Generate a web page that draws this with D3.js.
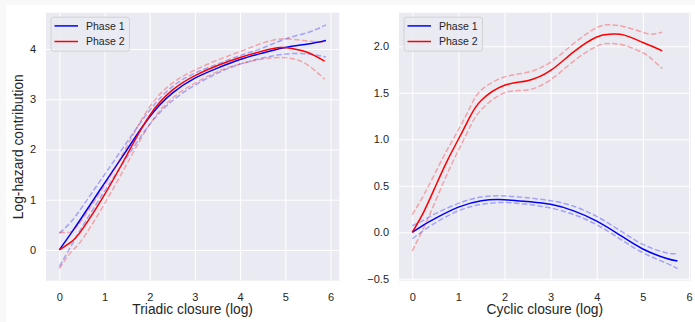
<!DOCTYPE html>
<html>
<head>
<meta charset="utf-8">
<script src="https://cdn.jsdelivr.net/npm/d3@7"></script>
<style>
  body { margin: 0; background: #f8f8f8; }
  svg { display: block; }
  text { font-family: "Liberation Sans", Arial, sans-serif; fill: #262626; }
</style>
</head>
<body>
<div id="chart"></div>
<script>
// ---- data ----
// left panel: triadic closure
const triX1 = [0, 0.25, 0.5, 1, 1.5, 2, 2.5, 3, 3.5, 4, 4.5, 5, 5.5, 5.9];
const triPhase1 = [0, 0.32, 0.65, 1.33, 2.0, 2.65, 3.12, 3.42, 3.62, 3.79, 3.92, 4.03, 4.1, 4.17];
const triPhase1Hi = [0.33, 0.55, 0.85, 1.5, 2.15, 2.78, 3.25, 3.52, 3.7, 3.87, 4.02, 4.2, 4.33, 4.48];
const triPhase1Lo = [-0.33, 0.06, 0.45, 1.17, 1.85, 2.5, 2.97, 3.28, 3.52, 3.7, 3.82, 3.9, 3.9, 3.84];

const triX2 = [0, 0.25, 0.5, 1, 1.5, 2, 2.5, 3, 3.5, 4, 4.5, 4.9, 5.2, 5.5, 5.87];
const triPhase2 = [0, 0.15, 0.4, 1.1, 1.9, 2.68, 3.18, 3.47, 3.67, 3.83, 3.96, 4.03, 4.0, 3.93, 3.76];
const triPhase2Hi = [0.35, 0.36, 0.6, 1.28, 2.07, 2.85, 3.32, 3.58, 3.78, 3.95, 4.12, 4.2, 4.19, 4.16, 4.13];
const triPhase2Lo = [-0.37, -0.05, 0.2, 0.92, 1.72, 2.5, 3.02, 3.32, 3.55, 3.7, 3.8, 3.83, 3.8, 3.68, 3.4];

// right panel: cyclic closure
const cycX1 = [0, 0.25, 0.5, 1, 1.5, 2, 2.5, 3, 3.5, 4, 4.5, 5, 5.5, 5.75];
const cycPhase1 = [0, 0.08, 0.15, 0.27, 0.34, 0.35, 0.33, 0.3, 0.23, 0.12, -0.03, -0.18, -0.28, -0.31];
const cycPhase1Hi = [0.07, 0.13, 0.2, 0.31, 0.38, 0.39, 0.37, 0.34, 0.28, 0.17, 0.02, -0.13, -0.22, -0.23];
const cycPhase1Lo = [-0.07, 0.02, 0.1, 0.23, 0.3, 0.32, 0.3, 0.26, 0.19, 0.08, -0.07, -0.22, -0.33, -0.39];

const cycX2 = [0, 0.25, 0.5, 0.75, 1, 1.25, 1.5, 2, 2.5, 3, 3.5, 4, 4.3, 4.6, 5, 5.2, 5.42];
const cycPhase2 = [0, 0.22, 0.49, 0.76, 1.0, 1.24, 1.42, 1.58, 1.63, 1.74, 1.94, 2.1, 2.13, 2.12, 2.04, 2.0, 1.95];
const cycPhase2Hi = [0.19, 0.4, 0.64, 0.88, 1.1, 1.34, 1.53, 1.67, 1.72, 1.83, 2.03, 2.2, 2.23, 2.21, 2.15, 2.13, 2.15];
const cycPhase2Lo = [-0.2, 0.05, 0.33, 0.62, 0.88, 1.13, 1.32, 1.5, 1.53, 1.64, 1.84, 2.0, 2.03, 2.01, 1.93, 1.86, 1.76];

const seriesNames = ["Phase 1", "Phase 2"];
const seriesColors = ["#0000ff", "#ff0000"];
const xTicks = [0, 1, 2, 3, 4, 5, 6];
const triYTicks = [0, 1, 2, 3, 4];
const cycYTicks = [-0.5, 0.0, 0.5, 1.0, 1.5, 2.0];

const W = 695, H = 322;

const svg = d3.select("#chart")
  .append("svg")
    .attr("width", W)
    .attr("height", H);

svg.append("rect")
  .attr("x", 6).attr("y", 5)
  .attr("width", W - 6).attr("height", H - 5)
  .attr("fill", "#ffffff");

// 5% padding like matplotlib
function padded(vals) {
  const [a, b] = d3.extent(vals);
  const m = (b - a) * 0.05;
  return [a - m, b + m];
}

function panel(opts) {
  const {left, right, top, bottom, series, yTicks, yFmt, xLabel, yLabel} = opts;

  const allX = series.flatMap(s => s.x);
  const allY = series.flatMap(s => s.y.concat(s.hi, s.lo));

  const x = d3.scaleLinear().domain(padded(allX)).range([left, right]);
  const y = d3.scaleLinear().domain(padded(allY)).range([bottom, top]);

  const g = svg.append("g");

  g.append("rect")
    .attr("x", left).attr("y", top)
    .attr("width", right - left).attr("height", bottom - top)
    .attr("fill", "#eaeaf2");

  // grid
  g.append("g")
    .attr("transform", `translate(0,${bottom})`)
    .call(d3.axisBottom(x).tickValues(xTicks).tickSize(-(bottom - top)).tickFormat(d3.format("d")).tickPadding(8))
    .call(a => a.select(".domain").remove())
    .call(a => a.selectAll("line").attr("stroke", "#fff").attr("stroke-width", 1))
    .call(a => a.selectAll("text").attr("font-size", "11px").attr("fill", "#262626")
      .attr("font-family", "Liberation Sans, Arial, sans-serif").attr("dy", "1.1em"));

  g.append("g")
    .attr("transform", `translate(${left},0)`)
    .call(d3.axisLeft(y).tickValues(yTicks).tickSize(-(right - left)).tickFormat(yFmt).tickPadding(10))
    .call(a => a.select(".domain").remove())
    .call(a => a.selectAll("line").attr("stroke", "#fff").attr("stroke-width", 1))
    .call(a => a.selectAll("text").attr("font-size", "11px").attr("fill", "#262626")
      .attr("font-family", "Liberation Sans, Arial, sans-serif"));

  const line = d3.line()
    .x(d => x(d[0]))
    .y(d => y(d[1]))
    .curve(d3.curveNatural);

  series.forEach((s, i) => {
    const col = seriesColors[i];
    g.append("path")
      .attr("d", line(d3.zip(s.x, s.y)))
      .attr("fill", "none").attr("stroke", col).attr("stroke-width", 1.5);
    [s.hi, s.lo].forEach(b => {
      g.append("path")
        .attr("d", line(d3.zip(s.x, b)))
        .attr("fill", "none").attr("stroke", col).attr("stroke-opacity", 0.3)
        .attr("stroke-width", 1.5).attr("stroke-dasharray", "5.5,2.4");
    });
  });

  // legend
  const lx = left + 5, ly = top + 4.5;
  const lg = g.append("g").attr("transform", `translate(${lx},${ly})`);
  lg.append("rect")
    .attr("width", 78.5).attr("height", 34).attr("rx", 2.5)
    .attr("fill", "#eaeaf2").attr("fill-opacity", 0.8)
    .attr("stroke", "#cccccc").attr("stroke-width", 0.8);
  seriesNames.forEach((name, i) => {
    const yy = 8.7 + i * 15.6;
    lg.append("line")
      .attr("x1", 3.5).attr("x2", 27).attr("y1", yy).attr("y2", yy)
      .attr("stroke", seriesColors[i]).attr("stroke-width", 1.5);
    lg.append("text")
      .attr("x", 35).attr("y", yy).attr("dy", "0.36em")
      .attr("font-size", "10.5px")
      .text(name);
  });

  // axis labels
  svg.append("text")
    .attr("x", (left + right) / 2).attr("y", 314)
    .attr("text-anchor", "middle").attr("font-size", "13.8px")
    .text(xLabel);

  if (yLabel) {
    svg.append("text")
      .attr("transform", `translate(23,${(top + bottom) / 2}) rotate(-90)`)
      .attr("text-anchor", "middle").attr("font-size", "13.8px")
      .text(yLabel);
  }
}

panel({
  left: 46, right: 339.3, top: 12.7, bottom: 280.7,
  series: [
    {x: triX1, y: triPhase1, hi: triPhase1Hi, lo: triPhase1Lo},
    {x: triX2, y: triPhase2, hi: triPhase2Hi, lo: triPhase2Lo}
  ],
  yTicks: triYTicks,
  yFmt: d3.format("d"),
  xLabel: "Triadic closure (log)",
  yLabel: "Log-hazard contribution"
});

panel({
  left: 399, right: 690.7, top: 12.7, bottom: 280.7,
  series: [
    {x: cycX1, y: cycPhase1, hi: cycPhase1Hi, lo: cycPhase1Lo},
    {x: cycX2, y: cycPhase2, hi: cycPhase2Hi, lo: cycPhase2Lo}
  ],
  yTicks: cycYTicks,
  yFmt: d3.format(".1f"),
  xLabel: "Cyclic closure (log)",
  yLabel: null
});
</script>
</body>
</html>
